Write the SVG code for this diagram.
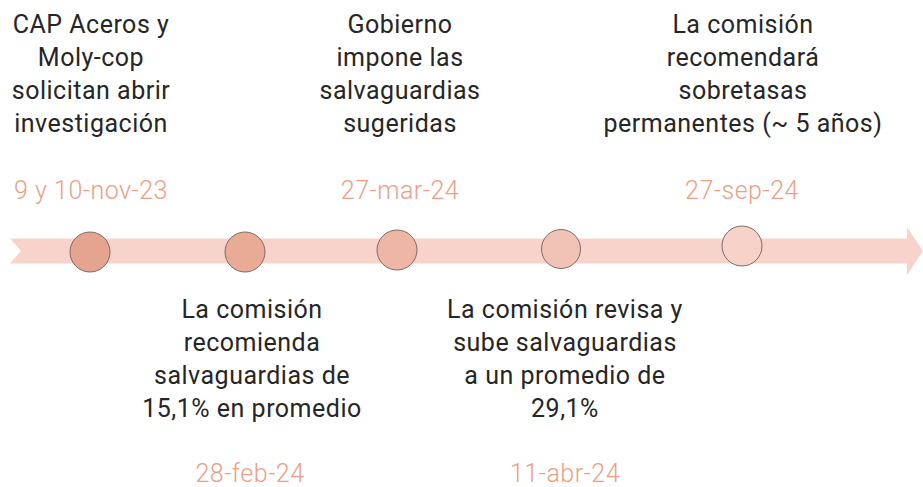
<svg xmlns="http://www.w3.org/2000/svg" width="923" height="487" viewBox="0 0 923 487">
<style>
.t{font-family:Roboto,"Liberation Sans",sans-serif;font-size:25px;font-weight:400;letter-spacing:0.5px;fill:#262626;text-anchor:middle}
.d{font-family:Roboto,"Liberation Sans",sans-serif;font-size:25px;font-weight:300;letter-spacing:0.5px;fill:#ec9f88;text-anchor:middle}
.c{stroke:#7d6b66;stroke-width:1}
</style>
<rect width="923" height="487" fill="#ffffff"/>
<g id="connectors">
<path d="M10,238.5 L907,238.5 L907,227 L923,251 L907,275 L907,263.5 L10,263.5 L21,251 Z" fill="#f7d3cb"/>
</g>
<g id="n1">
<circle class="c" cx="90" cy="252" r="20" fill="#e5a490"/>
<text class="t"><tspan x="91" y="33">CAP Aceros y</tspan><tspan x="91" y="66">Moly-cop</tspan><tspan x="91" y="99">solicitan abrir</tspan><tspan x="91" y="132">investigación</tspan></text>
<text class="d" x="91" y="199">9 y 10-nov-23</text>
</g>
<g id="n2">
<circle class="c" cx="245" cy="252" r="20" fill="#e9ab96"/>
<text class="t"><tspan x="252" y="318">La comisión</tspan><tspan x="252" y="351">recomienda</tspan><tspan x="252" y="384">salvaguardias de</tspan><tspan x="252" y="417">15,1% en promedio</tspan></text>
<text class="d" x="250" y="482">28-feb-24</text>
</g>
<g id="n3">
<circle class="c" cx="397" cy="250" r="20" fill="#edb6a5"/>
<text class="t"><tspan x="400" y="33">Gobierno</tspan><tspan x="400" y="66">impone las</tspan><tspan x="400" y="99">salvaguardias</tspan><tspan x="400" y="132">sugeridas</tspan></text>
<text class="d" x="400" y="199">27-mar-24</text>
</g>
<g id="n4">
<circle class="c" cx="561" cy="249" r="19.5" fill="#f1c3b6"/>
<text class="t"><tspan x="565" y="318">La comisión revisa y</tspan><tspan x="565" y="351">sube salvaguardias</tspan><tspan x="565" y="384">a un promedio de</tspan><tspan x="565" y="417">29,1%</tspan></text>
<text class="d" x="565" y="482">11-abr-24</text>
</g>
<g id="n5">
<circle class="c" cx="742" cy="246" r="20" fill="#f6d2c8"/>
<text class="t"><tspan x="743" y="33">La comisión</tspan><tspan x="743" y="66">recomendará</tspan><tspan x="743" y="99">sobretasas</tspan><tspan x="743" y="132">permanentes (~ 5 años)</tspan></text>
<text class="d" x="742" y="199">27-sep-24</text>
</g>
</svg>
